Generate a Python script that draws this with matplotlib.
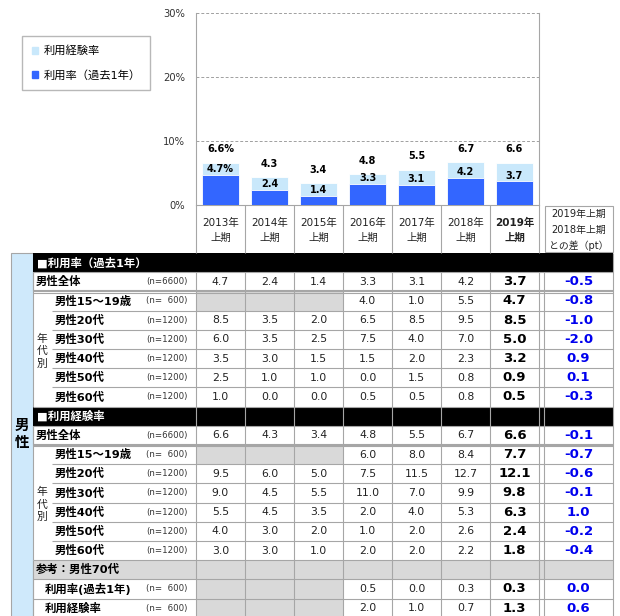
import matplotlib
matplotlib.use("Agg")
import matplotlib.pyplot as plt
import numpy as np
from matplotlib.patches import Rectangle, Patch

plt.rcParams["font.family"] = ["DejaVu Sans", "Noto Sans CJK JP"]

# --- data -------------------------------------------------------------
periods = ["2013年\n上期", "2014年\n上期", "2015年\n上期", "2016年\n上期",
           "2017年\n上期", "2018年\n上期", "2019年\n上期"]
use_1y = [4.7, 2.4, 1.4, 3.3, 3.1, 4.2, 3.7]
use_ever = [6.6, 4.3, 3.4, 4.8, 5.5, 6.7, 6.6]

age_labels = ["男性15～19歳", "男性20代", "男性30代", "男性40代", "男性50代", "男性60代"]
age_n = ["(n=  600)", "(n=1200)", "(n=1200)", "(n=1200)", "(n=1200)", "(n=1200)"]

rate_total = [4.7, 2.4, 1.4, 3.3, 3.1, 4.2, 3.7]
rate_total_diff = -0.5
rate_age = [
    [None, None, None, 4.0, 1.0, 5.5, 4.7],
    [8.5, 3.5, 2.0, 6.5, 8.5, 9.5, 8.5],
    [6.0, 3.5, 2.5, 7.5, 4.0, 7.0, 5.0],
    [3.5, 3.0, 1.5, 1.5, 2.0, 2.3, 3.2],
    [2.5, 1.0, 1.0, 0.0, 1.5, 0.8, 0.9],
    [1.0, 0.0, 0.0, 0.5, 0.5, 0.8, 0.5],
]
rate_age_diff = [-0.8, -1.0, -2.0, 0.9, 0.1, -0.3]

exp_total = [6.6, 4.3, 3.4, 4.8, 5.5, 6.7, 6.6]
exp_total_diff = -0.1
exp_age = [
    [None, None, None, 6.0, 8.0, 8.4, 7.7],
    [9.5, 6.0, 5.0, 7.5, 11.5, 12.7, 12.1],
    [9.0, 4.5, 5.5, 11.0, 7.0, 9.9, 9.8],
    [5.5, 4.5, 3.5, 2.0, 4.0, 5.3, 6.3],
    [4.0, 3.0, 2.0, 1.0, 2.0, 2.6, 2.4],
    [3.0, 3.0, 1.0, 2.0, 2.0, 2.2, 1.8],
]
exp_age_diff = [-0.7, -0.6, -0.1, 1.0, -0.2, -0.4]

ref70_rate = [None, None, None, 0.5, 0.0, 0.3, 0.3]
ref70_rate_diff = 0.0
ref70_exp = [None, None, None, 2.0, 1.0, 0.7, 1.3]
ref70_exp_diff = 0.6

# --- style ------------------------------------------------------------
DARK = "#3366ff"
LIGHT = "#c9e8fb"
SIDE = "#cfe9fb"
GREY = "#d9d9d9"
LINE = "#a6a6a6"
W, H = 620, 616

fig = plt.figure(figsize=(W / 100, H / 100), dpi=100)
tb = fig.add_axes([0, 0, 1, 1])
tb.set_xlim(0, W)
tb.set_ylim(H, 0)
tb.axis("off")

# chart area in pixels
cl, cr, ct, cb = 196, 539, 13, 205
colw = (cr - cl) / 7
ax = fig.add_axes([cl / W, 1 - cb / H, (cr - cl) / W, (cb - ct) / H])
ax.patch.set_alpha(0)

x = np.arange(len(periods))
ax.bar(x, use_ever, width=0.76, color=LIGHT, edgecolor="white", linewidth=0.6, zorder=2)
ax.bar(x, use_1y, width=0.76, color=DARK, edgecolor="white", linewidth=0.6, zorder=3)
for i in x:
    tot = f"{use_ever[i]}%" if i == 0 else f"{use_ever[i]}"
    cur = f"{use_1y[i]}%" if i == 0 else f"{use_1y[i]}"
    ax.annotate(tot, (i, use_ever[i]), xytext=(0, 6), textcoords="offset points",
                ha="center", va="bottom", fontsize=7, fontweight="bold", zorder=4)
    ax.annotate(cur, (i, use_1y[i]), xytext=(0, 0.5), textcoords="offset points",
                ha="center", va="bottom", fontsize=7, fontweight="bold", zorder=4)

ax.set_xlim(-0.5, 6.5)
ax.set_ylim(0, 30)
ax.set_yticks([0, 10, 20, 30])
ax.set_yticklabels(["0%", "10%", "20%", "30%"])
ax.tick_params(axis="y", length=0, pad=8, labelsize=7.2, colors="#333333")
ax.set_xticks(x)
ax.set_xticklabels(periods, fontsize=7.5, linespacing=1.6)
ax.tick_params(axis="x", length=0, pad=9.5, colors="#222222")
ax.get_xticklabels()[-1].set_fontweight("bold")
for yv in [10, 20, 30]:
    ax.axhline(yv, color="#a0a0a0", linestyle=(0, (3, 2)), linewidth=0.7, zorder=1)
for s in ["left", "right", "bottom"]:
    ax.spines[s].set_color(LINE)
    ax.spines[s].set_linewidth(0.8)
ax.spines["top"].set_visible(False)

fig.legend(handles=[Patch(color=LIGHT, label="利用経験率"),
                    Patch(color=DARK, label="利用率（過去1年）")],
           loc="upper left", bbox_to_anchor=(22 / W, 1 - 36 / H),
           fontsize=8.1, frameon=True, fancybox=False, edgecolor=LINE,
           handlelength=0.6, handleheight=0.6, handletextpad=0.45,
           labelspacing=1.2, borderpad=0.85, borderaxespad=0)

# --- table --------------------------------------------------------------
t0 = 253
rh = 19.2
dl, dr = 544, 613
edges = [cl + colw * k for k in range(8)]
centers = [cl + colw * (k + 0.5) for k in range(7)]
dcen = (dl + dr) / 2


def ry(i):
    return t0 + rh * i


def hline(y, x0, x1, lw=0.8, c=LINE):
    tb.plot([x0, x1], [y, y], color=c, lw=lw, solid_capstyle="butt")


def vline(xp, y0, y1, lw=0.8, c=LINE):
    tb.plot([xp, xp], [y0, y1], color=c, lw=lw, solid_capstyle="butt")


# header cells under the chart
for e in edges:
    vline(e, cb, t0)
tb.add_patch(Rectangle((dl + 1, cb + 1), dr - dl - 1, t0 - cb - 2, fill=False, ec=LINE, lw=0.8))
for k, s in enumerate(["2019年上期", "2018年上期", "との差（pt）"]):
    tb.text(dcen, 214 + 16 * k, s, ha="center", va="center", fontsize=7.1, color="#222222")

# side column
tb.add_patch(Rectangle((10.5, t0), 22.5, H - t0 + 2, fc=SIDE, ec=LINE, lw=0.8))
tb.text(22, 434, "男\n性", ha="center", va="center", fontsize=10.5, fontweight="bold",
        linespacing=1.25)


def fmt(v):
    return f"{v:.1f}"


def data_row(i, vals, diff, label, n, lx, sep_from=33):
    y0, y1 = ry(i), ry(i + 1)
    yc = (y0 + y1) / 2
    for k, v in enumerate(vals):
        if v is None:
            tb.add_patch(Rectangle((edges[k], y0), colw, rh, fc=GREY, ec="none"))
        elif k == 6:
            tb.text(centers[k], yc, fmt(v), ha="center", va="center", fontsize=9.5,
                    fontweight="bold", color="black")
        else:
            tb.text(centers[k], yc, fmt(v), ha="center", va="center", fontsize=7.8,
                    color="#222222")
    tb.text(dcen, yc, fmt(diff), ha="center", va="center", fontsize=9.5,
            fontweight="bold", color="#0000ee")
    tb.text(lx, yc, label, ha="left", va="center", fontsize=8.2, fontweight="bold")
    tb.text(146, yc, n, ha="left", va="center", fontsize=6.2, color="#333333")
    hline(y1, sep_from, dr)


def header_row(i, label):
    y0 = ry(i)
    tb.add_patch(Rectangle((33, y0), dr - 33, rh, fc="black", ec="none"))
    tb.text(37, y0 + rh / 2, label, ha="left", va="center", fontsize=8.2,
            fontweight="bold", color="white")


def section(start, title, total, tdiff, ages, adiff):
    header_row(start, title)
    data_row(start + 1, total, tdiff, "男性全体", "(n=6600)", 36)
    hline(ry(start + 2) - 1.2, 33, dr)
    hline(ry(start + 2) + 1.2, 33, dr)
    for j in range(6):
        last = j == 5
        data_row(start + 2 + j, ages[j], adiff[j], age_labels[j], age_n[j], 55,
                 sep_from=33 if last else 52)
    ym = (ry(start + 2) + ry(start + 8)) / 2
    tb.text(42, ym + 2, "年\n代\n別", ha="center", va="center", fontsize=7.8,
            linespacing=1.3, color="#222222")


section(0, "■利用率（過去1年）", rate_total, rate_total_diff, rate_age, rate_age_diff)
section(8, "■利用経験率", exp_total, exp_total_diff, exp_age, exp_age_diff)

# reference rows
tb.add_patch(Rectangle((33, ry(16)), dr - 33, rh, fc=GREY, ec="none"))
tb.text(36, ry(16) + rh / 2, "参考：男性70代", ha="left", va="center", fontsize=8.2,
        fontweight="bold")
hline(ry(17), 33, dr)
data_row(17, ref70_rate, ref70_rate_diff, "利用率(過去1年)", "(n=  600)", 45)
data_row(18, ref70_exp, ref70_exp_diff, "利用経験率", "(n=  600)", 45)

# vertical grid lines in the table
for e in edges:
    vline(e, t0 + rh, H)
vline(dl, t0 + rh, H)
vline(dr, t0, H)
for i in (0, 8):
    vline(33, ry(i + 1), ry(i + 2))
vline(33, ry(16), H)
for i in (0, 8):
    hline(ry(i + 1), 33, dr)

fig.savefig("out.png", dpi=100)
